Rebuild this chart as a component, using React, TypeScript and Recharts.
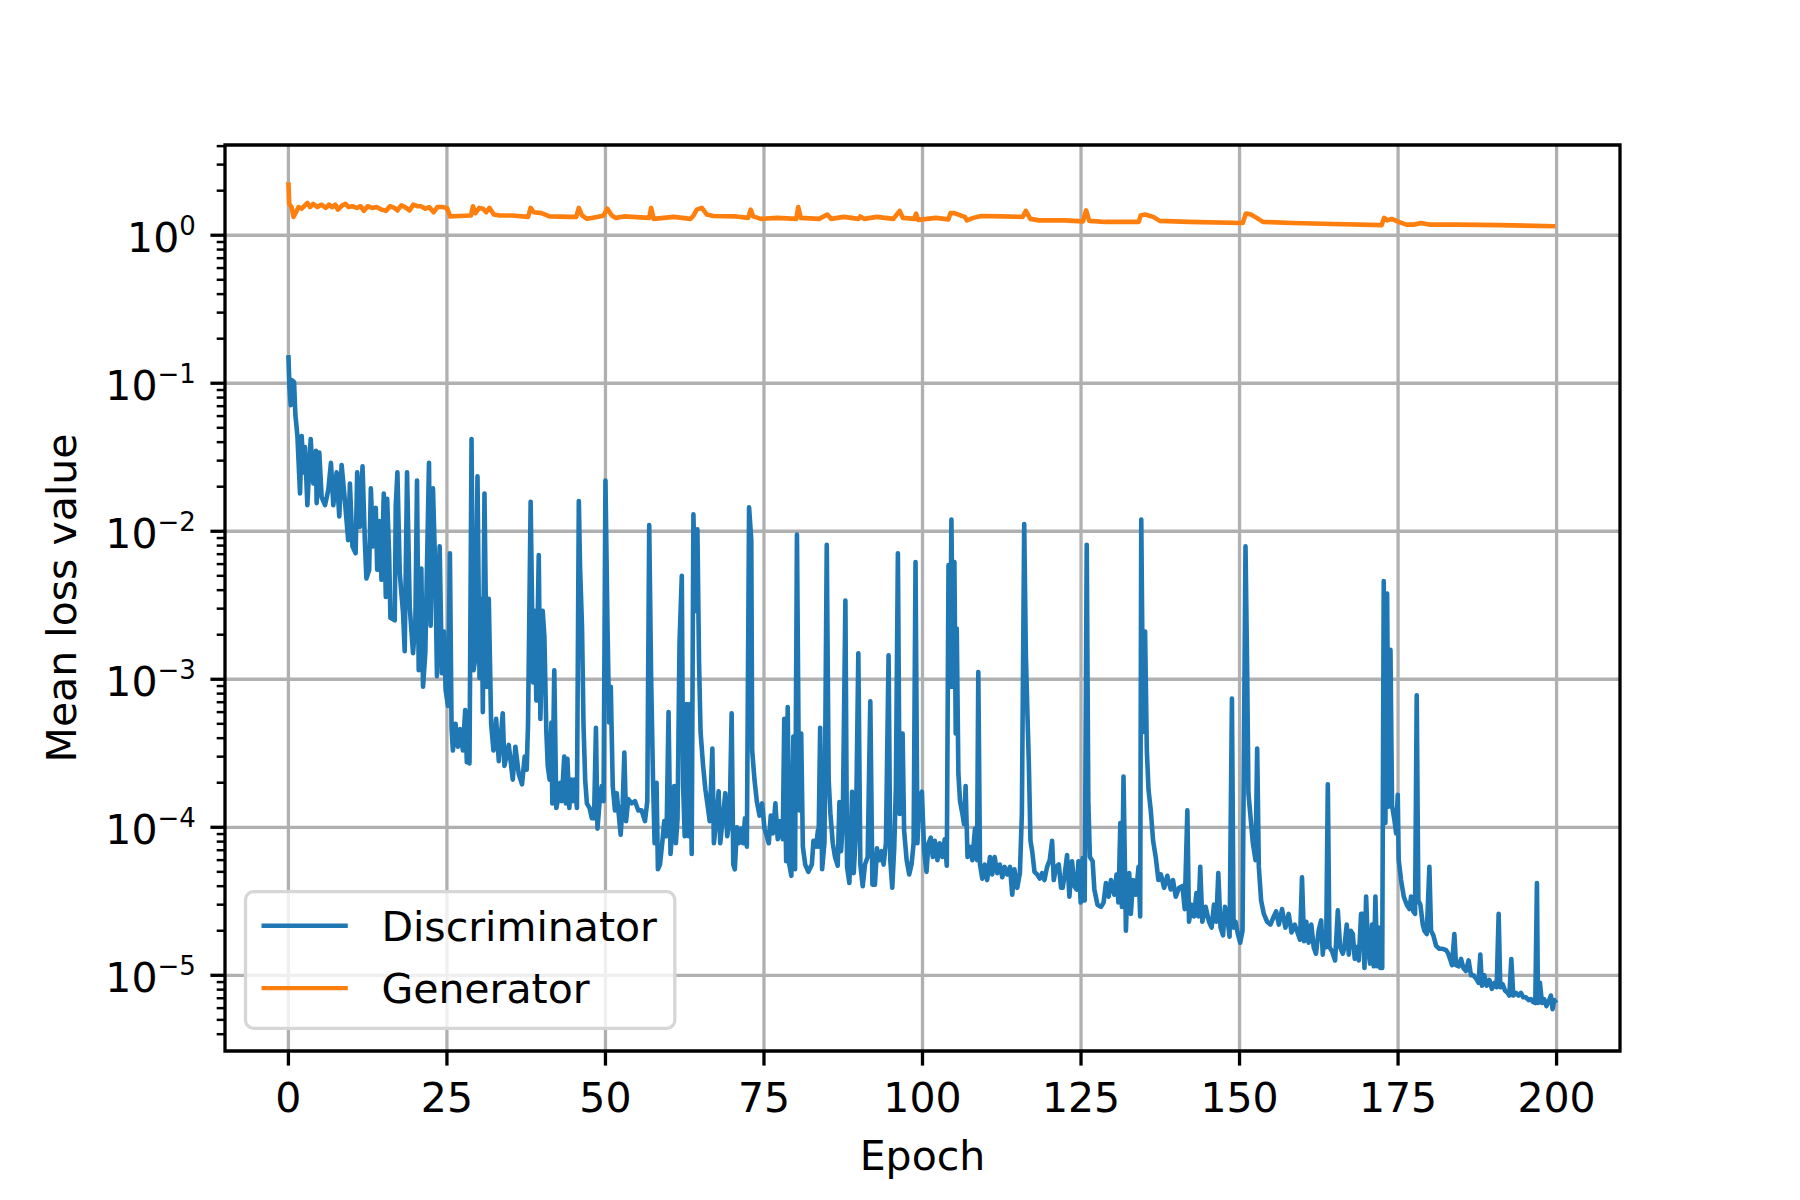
import React from 'react';
import { LineChart, Line, XAxis, YAxis, CartesianGrid, Legend, ReferenceArea } from 'recharts';

const FONT = 'DejaVu Sans';

const X_TICKS = [0, 25, 50, 75, 100, 125, 150, 175, 200];
const X_DOMAIN = [-10, 210];
const Y_MAJOR = [1e-5, 1e-4, 1e-3, 1e-2, 1e-1, 1];
const Y_MINOR = [
  4e-6, 5e-6, 6e-6, 7e-6, 8e-6, 9e-6,
  2e-5, 3e-5, 4e-5, 5e-5, 6e-5, 7e-5, 8e-5, 9e-5,
  2e-4, 3e-4, 4e-4, 5e-4, 6e-4, 7e-4, 8e-4, 9e-4,
  2e-3, 3e-3, 4e-3, 5e-3, 6e-3, 7e-3, 8e-3, 9e-3,
  2e-2, 3e-2, 4e-2, 5e-2, 6e-2, 7e-2, 8e-2, 9e-2,
  0.2, 0.3, 0.4, 0.5, 0.6, 0.7, 0.8, 0.9,
  2, 3, 4,
];
const Y_DOMAIN = [3.08e-6, 4.07];

// [epoch, mean loss]
const DISCRIMINATOR: [number, number][] = [
  [0, 0.155], [0.16, 0.095], [0.37, 0.071], [0.52, 0.105], [0.89, 0.102], [1.1, 0.061], [1.42, 0.044], [1.83, 0.018],
  [2.1, 0.044], [2.36, 0.025], [2.62, 0.037], [2.99, 0.015], [3.51, 0.042], [3.93, 0.021], [4.35, 0.035], [4.45, 0.0155],
  [4.87, 0.034], [5.24, 0.017], [5.77, 0.015], [6.29, 0.019], [6.71, 0.029], [7.08, 0.015], [7.6, 0.025], [8.02, 0.0126],
  [8.39, 0.028], [8.91, 0.016], [9.43, 0.0087], [9.7, 0.021], [10.1, 0.0079], [10.6, 0.0071], [10.85, 0.025], [11.27, 0.0107],
  [11.69, 0.0275], [12.05, 0.0087], [12.3, 0.0048], [12.74, 0.0055], [13.0, 0.0195], [13.36, 0.0079], [13.78, 0.0144], [14.0, 0.0055],
  [14.3, 0.0117], [14.68, 0.0047], [15.04, 0.018], [15.36, 0.0036], [15.57, 0.0166], [15.88, 0.0071], [16.09, 0.0026], [16.77, 0.0025],
  [16.93, 0.015], [17.19, 0.025], [17.56, 0.0052], [18.08, 0.0028], [18.34, 0.00155], [18.71, 0.025], [19.13, 0.0031], [19.65, 0.0015],
  [20.02, 0.0024], [20.28, 0.022], [20.55, 0.00115], [20.96, 0.0056], [21.23, 0.00089], [21.59, 0.0015], [22.17, 0.029], [22.43, 0.0023],
  [22.8, 0.0195], [23.17, 0.0052], [23.43, 0.00105], [23.85, 0.0079], [24.21, 0.0011], [24.53, 0.0021], [24.79, 0.00085], [25.16, 0.00066],
  [25.47, 0.0071], [25.73, 0.00047], [25.94, 0.00033], [26.36, 0.0005], [26.73, 0.00035], [27.1, 0.00046], [27.52, 0.00033], [27.88, 0.00062],
  [28.14, 0.000275], [28.35, 0.00048], [28.56, 0.00027], [28.88, 0.042], [29.19, 0.00115], [29.5, 0.0014], [29.82, 0.0235], [30.14, 0.00102],
  [30.5, 0.0035], [30.66, 0.0006], [30.92, 0.018], [31.29, 0.00089], [31.6, 0.0035], [31.97, 0.0005], [32.34, 0.00033], [32.76, 0.00054],
  [33.18, 0.00028], [33.8, 0.00059], [34.07, 0.00026], [34.75, 0.00036], [35.38, 0.00021], [35.8, 0.00035], [36.32, 0.00023], [36.84, 0.000195],
  [37.26, 0.0003], [37.58, 0.000245], [37.79, 0.0005], [38.2, 0.0158], [38.6, 0.00095], [38.85, 0.0029], [39.1, 0.00072], [39.48, 0.0069],
  [39.74, 0.00054], [40.1, 0.0029], [40.37, 0.00195], [40.68, 0.00044], [40.9, 0.00026], [41.2, 0.00021], [41.47, 0.00051], [41.62, 0.000145],
  [41.93, 0.00115], [42.25, 0.000135], [42.6, 0.00016], [42.88, 0.0002], [43.1, 0.00015], [43.5, 0.0003], [43.76, 0.000145], [44.0, 0.00029],
  [44.3, 0.000135], [44.6, 0.00021], [44.87, 0.00015], [45.1, 0.00021], [45.5, 0.000135], [45.8, 0.016], [46.0, 0.0056], [46.3, 0.0023],
  [46.54, 0.00049], [46.8, 0.00021], [47.07, 0.000145], [47.5, 0.000135], [47.85, 0.000115], [48.2, 0.000115], [48.5, 0.00047], [48.74, 0.000098],
  [49.06, 0.000145], [49.42, 0.00019], [49.7, 0.00015], [50.0, 0.022], [50.3, 0.0026], [50.58, 0.00051], [50.84, 0.00089], [51.15, 0.00019],
  [51.5, 0.00013], [51.78, 0.00017], [52.04, 0.00013], [52.4, 0.000089], [52.72, 0.000145], [52.98, 0.00032], [53.25, 0.00011], [53.6, 0.000155],
  [54.14, 0.000145], [54.66, 0.00015], [55.18, 0.00013], [55.7, 0.00013], [56.23, 0.00011], [56.6, 0.00015], [56.9, 0.011], [57.2, 0.00105],
  [57.5, 0.00021], [57.75, 0.000078], [58.06, 0.0002], [58.27, 0.000052], [58.6, 0.000056], [58.95, 0.000078], [59.27, 0.00011], [59.63, 0.000087],
  [59.95, 0.0006], [60.26, 0.000066], [60.58, 0.0001], [60.84, 0.00019], [61.1, 0.000078], [61.37, 0.000115], [61.68, 0.00175], [62.04, 0.005],
  [62.25, 0.00019], [62.5, 0.000087], [62.8, 0.00068], [63.1, 0.000087], [63.3, 0.00068], [63.6, 0.000066], [63.87, 0.013], [64.2, 0.0029],
  [64.5, 0.0103], [64.76, 0.0013], [65.0, 0.00044], [65.4, 0.00026], [65.76, 0.00018], [66.07, 0.000145], [66.44, 0.00011], [66.86, 0.00034],
  [67.1, 0.000078], [67.5, 0.000115], [67.85, 0.000175], [68.1, 0.000078], [68.5, 0.000115], [68.9, 0.00017], [69.2, 0.000087], [69.58, 0.00011],
  [69.9, 0.00059], [70.16, 0.000056], [70.4, 0.000052], [70.73, 0.0001], [71.05, 0.000078], [71.4, 0.000098], [71.7, 0.000078], [72.0, 0.000115],
  [72.3, 0.000074], [72.65, 0.0145], [73.0, 0.0087], [73.14, 0.00033], [73.5, 0.00021], [73.87, 0.00015], [74.3, 0.00012], [74.7, 0.000145],
  [75.08, 0.000098], [75.45, 0.000087], [75.76, 0.000078], [76.07, 0.00012], [76.4, 0.000091], [76.8, 0.000145], [77.17, 0.000083], [77.54, 0.00011],
  [77.96, 0.000083], [78.2, 0.00054], [78.5, 0.000059], [78.74, 0.00065], [79.0, 0.000056], [79.32, 0.000047], [79.63, 0.00041], [79.9, 0.000052],
  [80.2, 0.0095], [80.45, 0.00043], [80.6, 0.00013], [80.87, 0.00043], [81.13, 0.000074], [81.5, 0.000056], [82.0, 0.00005], [82.55, 0.000056],
  [82.8, 0.000081], [83.23, 0.000074], [83.5, 0.000095], [83.6, 0.000074], [83.86, 0.00047], [84.17, 0.000052], [84.54, 0.000079], [84.9, 0.0081],
  [85.2, 0.00021], [85.48, 0.000123], [85.85, 0.000078], [86.2, 0.000063], [86.63, 0.000055], [86.9, 0.000148], [87.16, 0.000069], [87.42, 0.000105],
  [87.84, 0.0034], [88.1, 0.000054], [88.47, 0.000042], [88.9, 0.000174], [89.15, 0.000049], [89.5, 0.000091], [89.88, 0.0015], [90.2, 0.000056],
  [90.57, 0.00004], [90.93, 0.000056], [91.35, 0.000063], [91.77, 0.00071], [92.1, 0.000041], [92.5, 0.000041], [92.82, 0.000072], [93.2, 0.00006],
  [93.55, 0.000069], [93.87, 0.000056], [94.23, 0.000078], [94.65, 0.00145], [94.92, 0.00006], [95.23, 0.000039], [95.55, 0.000074], [95.8, 0.000186],
  [96.12, 0.0071], [96.4, 0.000123], [96.6, 0.00043], [96.86, 0.00043], [97.1, 0.000095], [97.5, 0.00006], [97.9, 0.000048], [98.27, 0.000056],
  [98.6, 0.000078], [98.9, 0.0062], [99.2, 0.000078], [99.5, 0.000155], [99.9, 0.000174], [100.26, 0.000069], [100.63, 0.00005], [100.94, 0.000078],
  [101.3, 0.000085], [101.62, 0.000063], [101.94, 0.000081], [102.36, 0.00006], [102.7, 0.000078], [103.14, 0.000063], [103.5, 0.000083], [103.83, 0.000055],
  [104.1, 0.0059], [104.35, 0.00089], [104.56, 0.012], [104.82, 0.00089], [105.03, 0.0062], [105.24, 0.00043], [105.4, 0.0022], [105.66, 0.00023],
  [105.92, 0.00015], [106.3, 0.000123], [106.55, 0.000105], [106.8, 0.00019], [107.1, 0.000063], [107.44, 0.000074], [107.86, 0.00006], [108.28, 0.000098],
  [108.6, 0.00006], [108.8, 0.00112], [109.07, 0.000056], [109.43, 0.000045], [109.8, 0.000056], [110.2, 0.000044], [110.64, 0.000063], [111.0, 0.000048],
  [111.37, 0.000063], [111.8, 0.000049], [112.2, 0.000056], [112.58, 0.000046], [112.95, 0.000054], [113.36, 0.000048], [113.8, 0.000054], [114.15, 0.000035],
  [114.5, 0.000052], [114.94, 0.000039], [115.36, 0.000049], [115.67, 0.000123], [116.04, 0.0112], [116.3, 0.00148], [116.56, 0.00056], [116.77, 0.00027],
  [117.03, 0.000081], [117.3, 0.000069], [117.66, 0.00005], [118.08, 0.000048], [118.5, 0.000045], [118.87, 0.000049], [119.23, 0.000044], [119.65, 0.000054],
  [120.07, 0.00006], [120.44, 0.000081], [120.7, 0.000044], [121.07, 0.000054], [121.49, 0.000056], [121.85, 0.000039], [122.1, 0.000039], [122.4, 0.000047],
  [122.8, 0.000065], [123.17, 0.000034], [123.58, 0.000059], [123.95, 0.00004], [124.3, 0.000038], [124.6, 0.000059], [124.95, 0.000031], [125.26, 0.000062],
  [125.58, 0.000032], [125.9, 0.0081], [126.15, 0.00015], [126.4, 0.000063], [126.83, 0.000059], [127.1, 0.000038], [127.6, 0.00003], [128.15, 0.000029],
  [128.56, 0.000031], [128.93, 0.000042], [129.35, 0.000034], [129.72, 0.000044], [130.24, 0.000035], [130.6, 0.000048], [130.9, 0.000031], [131.2, 0.000107],
  [131.45, 0.000029], [131.7, 0.00022], [132.08, 0.00002], [132.34, 0.000042], [132.6, 0.000049], [132.86, 0.000026], [133.2, 0.000044], [133.65, 0.000035],
  [134.07, 0.000054], [134.33, 0.000025], [134.5, 0.012], [134.8, 0.00044], [135.1, 0.0021], [135.38, 0.00033], [135.64, 0.00018], [136.0, 0.00013],
  [136.37, 0.000081], [136.8, 0.000062], [137.2, 0.000044], [137.6, 0.000048], [138.1, 0.000039], [138.6, 0.000047], [139.15, 0.000038], [139.5, 0.000044],
  [139.94, 0.000034], [140.46, 0.000039], [141.0, 0.00004], [141.35, 0.000028], [141.77, 0.00013], [142.03, 0.000023], [142.45, 0.00003], [142.82, 0.000025],
  [143.2, 0.000036], [143.5, 0.000025], [143.8, 0.000054], [144.13, 0.000023], [144.65, 0.000029], [145.18, 0.000023], [145.6, 0.000021], [145.96, 0.00003],
  [146.33, 0.000023], [146.65, 0.000049], [147.0, 0.000021], [147.4, 0.0000186], [147.7, 0.000029], [148.06, 0.000025], [148.43, 0.0000182], [148.8, 0.00074],
  [149.06, 0.000021], [149.37, 0.000023], [149.74, 0.000019], [150.1, 0.0000166], [150.47, 0.00002], [150.94, 0.0079], [151.2, 0.00115], [151.4, 0.00017],
  [151.73, 0.000118], [152.1, 0.000078], [152.52, 0.00006], [152.78, 0.00034], [153.04, 0.000054], [153.4, 0.000032], [153.83, 0.000026], [154.35, 0.000023],
  [154.87, 0.000022], [155.4, 0.000025], [155.77, 0.000027], [156.2, 0.000022], [156.7, 0.000028], [157.23, 0.000021], [157.75, 0.000026], [158.2, 0.0000195],
  [158.7, 0.000022], [159.22, 0.000019], [159.54, 0.0000174], [159.85, 0.000046], [160.17, 0.000017], [160.53, 0.000023], [160.9, 0.0000166], [161.32, 0.000022],
  [161.69, 0.0000155], [162.05, 0.000014], [162.47, 0.00002], [162.87, 0.0000235], [163.13, 0.0000138], [163.4, 0.0000195], [163.66, 0.0000155], [163.92, 0.000195],
  [164.18, 0.0000155], [164.6, 0.0000145], [165.07, 0.0000126], [165.5, 0.0000275], [165.86, 0.0000155], [166.28, 0.000014], [166.54, 0.0000155], [166.9, 0.000022],
  [167.23, 0.0000138], [167.54, 0.00002], [167.86, 0.000019], [168.17, 0.0000129], [168.49, 0.0000155], [168.8, 0.0000126], [169.17, 0.000026], [169.43, 0.000026],
  [169.7, 0.0000112], [169.96, 0.000034], [170.27, 0.0000148], [170.59, 0.000012], [170.9, 0.000022], [171.17, 0.0000115], [171.43, 0.000034], [171.7, 0.0000115],
  [171.95, 0.000021], [172.2, 0.0000112], [172.5, 0.0000112], [172.74, 0.0046], [173.0, 0.000107], [173.27, 0.0038], [173.53, 0.000138], [173.8, 0.00158],
  [174.05, 0.00014], [174.42, 0.000112], [174.7, 0.000091], [174.95, 0.000166], [175.1, 0.00006], [175.47, 0.000044], [175.9, 0.000034], [176.37, 0.00003],
  [176.8, 0.000028], [177.05, 0.000034], [177.4, 0.000027], [177.68, 0.000026], [177.94, 0.00078], [178.2, 0.000032], [178.52, 0.00003], [178.9, 0.000022],
  [179.15, 0.00002], [179.52, 0.000019], [179.94, 0.000054], [180.2, 0.00002], [180.57, 0.0000186], [181.0, 0.0000158], [181.5, 0.0000151], [182.04, 0.0000151],
  [182.56, 0.0000148], [182.88, 0.0000141], [183.2, 0.0000129], [183.5, 0.0000117], [183.88, 0.000019], [184.14, 0.0000117], [184.56, 0.0000115], [184.93, 0.0000129],
  [185.3, 0.0000112], [185.7, 0.0000107], [186.13, 0.0000126], [186.5, 0.00001], [186.87, 0.00001], [187.3, 0.0000095], [187.7, 0.0000089], [187.97, 0.0000138],
  [188.23, 0.0000085], [188.6, 0.00001], [188.97, 0.0000085], [189.4, 0.0000093], [189.8, 0.0000081], [190.18, 0.0000089], [190.55, 0.0000083], [190.86, 0.000026],
  [191.12, 0.0000083], [191.5, 0.0000087], [191.86, 0.0000079], [192.28, 0.0000076], [192.54, 0.0000073], [192.86, 0.0000129], [193.17, 0.0000073], [193.6, 0.0000076],
  [194.0, 0.0000073], [194.38, 0.0000076], [194.75, 0.0000071], [195.17, 0.0000071], [195.6, 0.0000068], [195.96, 0.0000069], [196.3, 0.0000066], [196.64, 0.0000065],
  [196.9, 0.000042], [197.06, 0.0000065], [197.37, 0.0000089], [197.7, 0.0000065], [198.05, 0.0000069], [198.4, 0.0000062], [198.84, 0.0000068], [199.1, 0.0000073],
  [199.37, 0.0000059], [199.63, 0.0000068], [199.95, 0.0000065],
];

const GENERATOR: [number, number][] = [
  [0, 2.28], [0.13, 1.63], [0.5, 1.55], [0.8, 1.33], [1.2, 1.43], [1.6, 1.55], [2.1, 1.51], [2.6, 1.59], [3.0, 1.65], [3.4, 1.55],
  [3.9, 1.63], [4.6, 1.55], [5.2, 1.61], [5.9, 1.53], [6.4, 1.61], [6.9, 1.55], [7.4, 1.61], [7.8, 1.49], [8.5, 1.59], [9.0, 1.63],
  [9.5, 1.55], [10.1, 1.57], [10.8, 1.53], [11.4, 1.57], [11.9, 1.46], [12.5, 1.57], [13.2, 1.53], [13.9, 1.55], [14.7, 1.49], [15.4, 1.46],
  [16.0, 1.57], [16.7, 1.53], [17.2, 1.47], [17.8, 1.59], [18.4, 1.55], [19.1, 1.47], [19.7, 1.61], [20.3, 1.57], [20.9, 1.57], [21.6, 1.51],
  [22.2, 1.55], [22.9, 1.43], [23.5, 1.55], [24.3, 1.55], [25.0, 1.53], [25.5, 1.34], [26.8, 1.35], [28.8, 1.36], [29.1, 1.57], [29.5, 1.41],
  [30.1, 1.53], [30.7, 1.51], [31.2, 1.43], [31.7, 1.53], [32.4, 1.38], [33.3, 1.36], [35.3, 1.36], [37.8, 1.33], [38.2, 1.53], [38.7, 1.43],
  [39.9, 1.41], [41.2, 1.34], [44.4, 1.33], [45.4, 1.33], [45.8, 1.53], [46.3, 1.36], [47.1, 1.29], [48.7, 1.33], [49.7, 1.36], [50.3, 1.51],
  [51.0, 1.36], [51.6, 1.31], [52.9, 1.34], [56.9, 1.31], [57.2, 1.53], [57.6, 1.29], [60.8, 1.33], [63.4, 1.29], [63.9, 1.36], [64.4, 1.49],
  [65.2, 1.53], [66.0, 1.38], [67.0, 1.35], [70.6, 1.34], [72.5, 1.31], [72.9, 1.49], [73.3, 1.34], [74.5, 1.29], [77.1, 1.31], [80.1, 1.29],
  [80.4, 1.55], [80.8, 1.31], [83.7, 1.29], [85.0, 1.38], [85.6, 1.29], [87.6, 1.33], [89.9, 1.29], [90.2, 1.34], [90.8, 1.29], [92.8, 1.33],
  [95.4, 1.29], [96.4, 1.46], [96.9, 1.31], [98.7, 1.29], [99.0, 1.4], [99.3, 1.27], [102.1, 1.31], [104.1, 1.28], [104.4, 1.41], [105.0, 1.41],
  [106.0, 1.36], [106.7, 1.33], [107.0, 1.26], [108.0, 1.31], [109.3, 1.35], [112.5, 1.34], [115.8, 1.33], [116.3, 1.46], [117.0, 1.29], [118.4, 1.26],
  [122.4, 1.26], [125.3, 1.24], [125.8, 1.47], [126.3, 1.25], [128.9, 1.23], [134.1, 1.23], [134.4, 1.36], [135.1, 1.38], [136.4, 1.33], [137.4, 1.25],
  [142.0, 1.23], [150.5, 1.21], [151.0, 1.4], [151.8, 1.38], [152.7, 1.31], [153.7, 1.23], [158.3, 1.21], [164.8, 1.19], [172.4, 1.17], [172.8, 1.31],
  [173.3, 1.26], [174.0, 1.29], [175.3, 1.22], [176.3, 1.18], [177.6, 1.18], [178.6, 1.21], [179.9, 1.18], [184.5, 1.18], [191.0, 1.17], [199.8, 1.15],
];

const discData = DISCRIMINATOR.map(([epoch, loss]) => ({ epoch, loss }));
const genData = GENERATOR.map(([epoch, loss]) => ({ epoch, loss }));

const isMajor = (v: number) => Y_MAJOR.some((m) => Math.abs(m - v) / m < 1e-6);

const YTick = (props: any) => {
  const { x, y, payload } = props;
  const v = payload.value as number;
  const major = isMajor(v);
  const exp = Math.round(Math.log10(v));
  const expText = exp < 0 ? `\u2212${-exp}` : `${exp}`;
  return (
    <g>
      <line x1={x} x2={x - (major ? 14.6 : 8.3)} y1={y} y2={y} stroke="#000" strokeWidth={major ? 3.3 : 2.5} />
      {major && (
        <text x={x - 29.2} y={y + 16.4} textAnchor="end" fontSize={41} fontFamily={FONT} fill="#000">
          10
          <tspan dy={-16.4} fontSize={26}>{expText}</tspan>
        </text>
      )}
    </g>
  );
};

const LegendBox = (props: any) => {
  const payload = props.payload || [];
  return (
    <svg width={442} height={148} style={{ display: 'block' }}>
      <rect x={5.5} y={5.7} width={429.3} height={136.6} rx={8} fill="#fff" fillOpacity={0.8} stroke="#d6d6d6" strokeWidth={3.3} />
      {payload.map((p: any, i: number) => (
        <g key={p.value}>
          <line x1={21.5} x2={107.8} y1={39.7 + i * 62.4} y2={39.7 + i * 62.4} stroke={p.color} strokeWidth={4.4} />
          <text x={141.4} y={54.7 + i * 62} fontSize={41} fontFamily={FONT} fill="#000">
            {p.value}
          </text>
        </g>
      ))}
    </svg>
  );
};

export default function App() {
  return (
    <div style={{ position: 'absolute', left: 0, top: 0, width: 1800, height: 1200, background: '#fff' }}>
      <LineChart width={1800} height={1200} margin={{ top: 145, right: 180, bottom: 0, left: 0 }}>
        <CartesianGrid stroke="#b0b0b0" strokeWidth={3.3} horizontalValues={Y_MAJOR} verticalValues={X_TICKS} />
        <XAxis
          type="number"
          dataKey="epoch"
          domain={X_DOMAIN}
          allowDataOverflow
          ticks={X_TICKS}
          interval={0}
          height={149}
          axisLine={false}
          tickLine={{ stroke: '#000', strokeWidth: 3.3 }}
          tickSize={14.6}
          tickMargin={17}
          tick={{ fill: '#000', fontSize: 41, fontFamily: FONT }}
          label={{
            value: 'Epoch',
            content: ({ viewBox }: any) => (
              <text x={viewBox.x + viewBox.width / 2} y={viewBox.y + 119} textAnchor="middle" fontSize={41} fontFamily={FONT} fill="#000">
                Epoch
              </text>
            ),
          }}
        />
        <YAxis
          type="number"
          scale="log"
          domain={Y_DOMAIN}
          allowDataOverflow
          ticks={[...Y_MINOR, ...Y_MAJOR]}
          interval={0}
          width={225}
          axisLine={false}
          tickLine={false}
          tickSize={0}
          tickMargin={0}
          tick={<YTick />}
          label={{
            value: 'Mean loss value',
            content: ({ viewBox }: any) => {
              const lx = viewBox.x + 76;
              const ly = viewBox.y + viewBox.height / 2;
              return (
                <text x={lx} y={ly} transform={`rotate(-90 ${lx} ${ly})`} textAnchor="middle" fontSize={41} fontFamily={FONT} fill="#000">
                  Mean loss value
                </text>
              );
            },
          }}
        />
        <Line
          name="Discriminator"
          data={discData}
          dataKey="loss"
          type="linear"
          stroke="#1f77b4"
          strokeWidth={4.6}
          strokeLinejoin="round"
          dot={false}
          activeDot={false}
          isAnimationActive={false}
        />
        <Line
          name="Generator"
          data={genData}
          dataKey="loss"
          type="linear"
          stroke="#ff7f0e"
          strokeWidth={4.6}
          strokeLinejoin="round"
          dot={false}
          activeDot={false}
          isAnimationActive={false}
        />
        <ReferenceArea
          x1={X_DOMAIN[0]}
          x2={X_DOMAIN[1]}
          y1={Y_DOMAIN[0]}
          y2={Y_DOMAIN[1]}
          ifOverflow="visible"
          fill="none"
          stroke="#000"
          strokeWidth={3.3}
        />
        <Legend
          layout="vertical"
          align="center"
          verticalAlign="middle"
          wrapperStyle={{ left: 240, top: 886, width: 442, height: 148 }}
          content={<LegendBox />}
        />
      </LineChart>
    </div>
  );
}
